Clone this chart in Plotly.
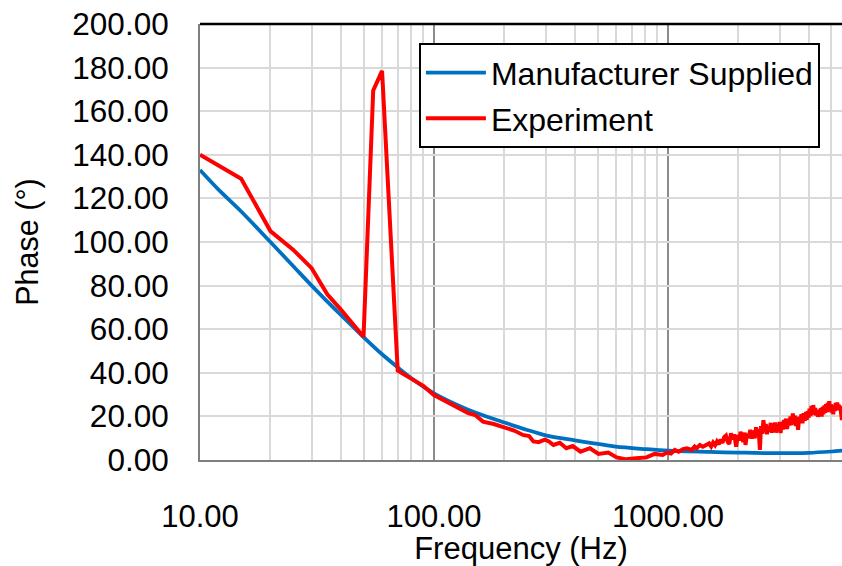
import plotly.graph_objects as go

# Manufacturer supplied phase curve
freq_mfr = [10, 12, 15, 20, 25, 30, 40, 50, 60, 70, 80, 100, 125, 150, 200, 250, 300,
            400, 500, 600, 800, 1000, 1500, 2000, 3000, 4000, 5000, 5600]
phase_mfr = [133, 124, 114, 100, 89, 80, 66.5, 56.4, 48.5, 42.5, 37.5, 30.6, 25.4, 21.8,
             17.2, 13.8, 11.3, 9.0, 7.4, 6.1, 5.0, 4.3, 3.7, 3.4, 3.1, 3.3, 3.9, 4.3]

# Experiment phase measurements
freq_exp = [10, 15, 20, 25, 30, 35, 40, 45, 50, 55, 60, 70, 80, 90, 100, 110, 125, 140,
            150, 162, 180, 197, 220, 240, 255, 266, 280, 298, 310, 324, 345, 368, 392,
            423, 464, 505, 556, 604, 664, 730, 810, 877, 950, 989, 1030, 1070, 1111, 1160,
            1205, 1262, 1300, 1327, 1370, 1409, 1460,
            1500, 1530, 1560, 1590, 1620, 1650, 1680, 1710, 1740, 1770, 1800, 1830, 1860,
            1890, 1920, 1957, 1990, 2020, 2043, 2070, 2100, 2130, 2145, 2180, 2210, 2250,
            2280, 2310, 2350, 2380, 2410, 2440, 2472, 2500, 2530, 2560, 2590, 2620, 2650,
            2680, 2710, 2750, 2780, 2810, 2840, 2870, 2900, 2940, 2970, 3000, 3030, 3060,
            3100, 3130, 3160, 3200, 3230, 3270, 3300, 3340, 3380, 3420, 3450, 3490, 3530,
            3560, 3600, 3640, 3680, 3720, 3760, 3800, 3850, 3890, 3920, 3960, 3990, 4030,
            4070, 4110, 4150, 4180, 4220, 4260, 4300, 4340, 4380, 4420, 4460, 4500, 4540,
            4580, 4620, 4660, 4700, 4740, 4780, 4820, 4860, 4890, 4930, 4970, 5010, 5050,
            5090, 5130, 5170, 5210, 5250, 5290, 5330, 5370, 5410, 5450, 5480, 5510, 5540,
            5570]
phase_exp = [140, 129, 105, 96.5, 88, 76, 69, 62.5, 56.5, 169.5, 178.5, 41, 37.5, 34, 29.8,
             27.5, 24.5, 21.5, 20.6, 17.6, 16.5, 15, 13.5, 11.5, 11, 8.5, 8.2, 9.3, 8.5,
             6.9, 7.9, 5.4, 6.4, 3.8, 5.4, 2.8, 3.4, 1.2, 0.3, 0.8, 1.2, 2.8, 2.3, 3.4, 3.0,
             4.6, 3.8, 5.0, 5.4, 4.6, 6.2, 5.4, 6.9, 6.1, 7.2,
             7.6, 6.2, 8.0, 6.8, 8.5, 7.2, 9.4, 7.8, 10.5, 11.2, 8.3, 7.4, 12.2,
             9.5, 11.8, 6.1, 11.5, 9.0, 13.0, 10.2, 8.4, 12.6, 6.9, 12.0, 10.1, 13.8,
             9.8, 13.5, 10.0, 15.0, 11.2, 14.2, 4.6, 15.5, 12.0, 18.3, 12.8, 16.5, 11.8,
             15.2, 13.0, 17.0, 12.5, 16.8, 13.4, 17.2, 12.6, 16.0, 13.2, 17.5, 12.4, 16.6,
             14.0, 18.4, 14.6, 19.0, 14.2, 18.2, 15.8, 20.0, 16.0, 21.4, 17.0, 20.3, 15.6,
             19.2, 13.8, 19.9, 17.0, 21.0, 16.8, 21.5, 18.0, 22.0, 18.5, 22.4, 19.4, 23.5,
             20.2, 24.8, 21.0, 25.2, 20.8, 23.8, 20.4, 23.0, 19.8, 22.6, 20.0, 23.8, 19.9,
             24.4, 21.0, 25.0, 21.6, 25.6, 22.0, 26.2, 22.6, 27.0, 22.2, 25.6, 21.8, 25.2,
             21.0, 24.6, 22.4, 26.2, 23.0, 26.4, 22.8, 25.4, 23.2, 24.8, 19.5, 21.5, 18.3,
             20.5]

x_ticks = [10, 100, 1000]
x_tick_labels = ["10.00", "100.00", "1000.00"]
y_ticks = [0, 20, 40, 60, 80, 100, 120, 140, 160, 180, 200]
y_tick_labels = ["%.2f" % v for v in y_ticks]

FONT = "Liberation Sans, Arial, sans-serif"

fig = go.Figure()
fig.add_trace(go.Scatter(x=freq_mfr, y=phase_mfr, mode="lines", name="Manufacturer Supplied",
                         legendgroup="a",
                         line=dict(color="#0070C0", width=3.75, shape="spline", smoothing=0.8)))
fig.add_trace(go.Scatter(x=freq_exp, y=phase_exp, mode="lines", name="Experiment",
                         legendgroup="b",
                         line=dict(color="#FF0000", width=4)))

fig.update_layout(
    width=842, height=566,
    margin=dict(l=200, r=0, t=24, b=106, autoexpand=False),
    paper_bgcolor="white", plot_bgcolor="white",
    font=dict(family=FONT, size=31, color="black"),
    showlegend=True,
    legend=dict(x=0.341, y=0.9555, xanchor="left", yanchor="top",
                bordercolor="black", borderwidth=2, bgcolor="white",
                font=dict(size=32), tracegroupgap=1, itemwidth=60),
    xaxis=dict(type="log", range=[1, 3.744], tickvals=x_ticks, ticktext=x_tick_labels,
               tickfont=dict(size=31),
               showgrid=True, gridcolor="#8C8C8C", gridwidth=2,
               minor=dict(showgrid=True, dtick="D1", gridcolor="#D9D9D9", gridwidth=2),
               showline=True, linecolor="#7F7F7F", linewidth=2,
               ticks="", ticklabelstandoff=28,
               title=dict(text="Frequency (Hz)", standoff=31, font=dict(size=31)),
               zeroline=False, automargin=False),
    yaxis=dict(range=[0, 200], tickvals=y_ticks, ticktext=y_tick_labels,
               tickfont=dict(size=31.5),
               showgrid=True, gridcolor="#D9D9D9", gridwidth=2,
               showline=True, linecolor="#7F7F7F", linewidth=2,
               ticks="", ticklabelstandoff=23,
               title=dict(text="Phase (°)", standoff=25, font=dict(size=30.5)),
               zeroline=False, automargin=False),
    shapes=[dict(type="line", xref="paper", yref="paper", x0=0, x1=1, y0=1, y1=1,
                 line=dict(color="black", width=2.5))],
)

fig.write_html("out.html")
